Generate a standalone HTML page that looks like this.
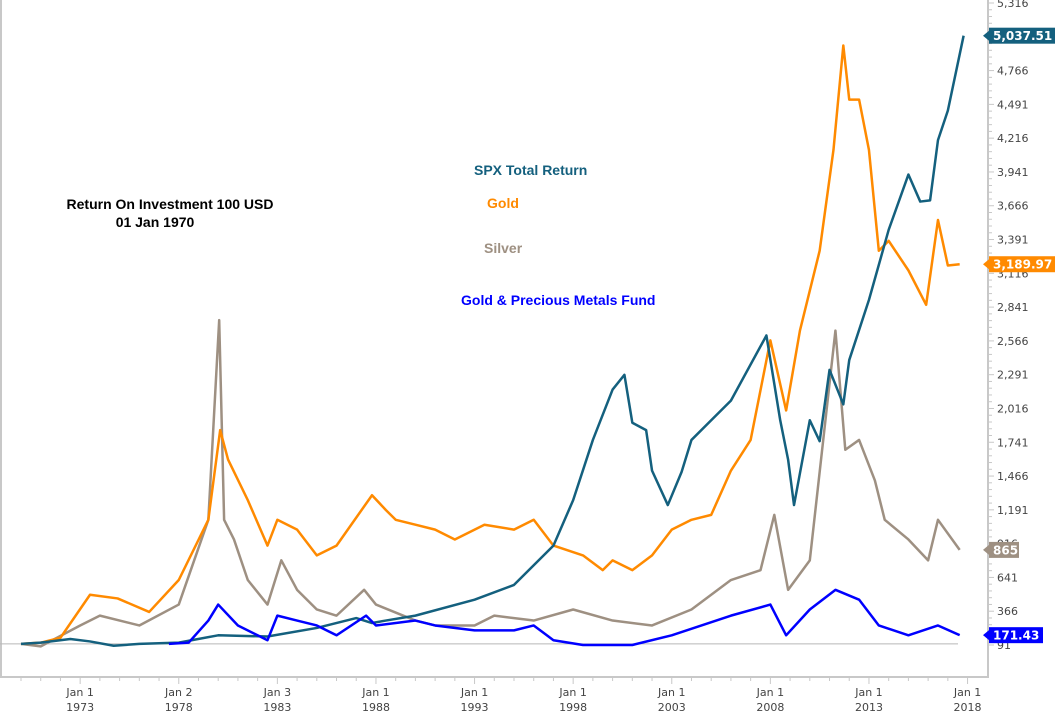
<!DOCTYPE html>
<html><head><meta charset="utf-8"><style>
body{margin:0;background:#fff;}
svg{display:block;font-family:"DejaVu Sans","Liberation Sans",sans-serif;}
.lbl{font-family:"Liberation Sans",sans-serif;font-weight:bold;font-size:14px;}
</style></head><body>
<svg id="chart" width="1055" height="715">
<g id="axes"></g><g id="series"></g>
<text class="lbl" x="170" y="209" text-anchor="middle" fill="#000">Return On Investment 100 USD</text>
<text class="lbl" x="155" y="227" text-anchor="middle" fill="#000">01 Jan 1970</text>
<text class="lbl" x="474" y="175" fill="#14607e">SPX Total Return</text>
<text class="lbl" x="487" y="208" fill="#ff8a00">Gold</text>
<text class="lbl" x="484" y="253" fill="#9e9082">Silver</text>
<text class="lbl" x="461" y="305" fill="#0000ff">Gold &amp; Precious Metals Fund</text>
</svg>
<script>
const yTicks=[91,366,641,916,1191,1466,1741,2016,2291,2566,2841,3116,3391,3666,3941,4216,4491,4766,5041,5316];
const xTickYears=[1973,1978,1983,1988,1993,1998,2003,2008,2013,2018];
const xTickDays=["Jan 1","Jan 2","Jan 3","Jan 1","Jan 1","Jan 1","Jan 1","Jan 1","Jan 1","Jan 1"];
const spxT=[1970,1971,1972.5,1973.5,1974.7,1976,1978,1980,1982.5,1985,1987,1987.8,1988.5,1990,1993,1995,1997,1998,1999,2000,2000.6,2001,2001.7,2002,2002.8,2003.5,2004,2005,2006,2007.8,2008.5,2008.9,2009.2,2010,2010.5,2011,2011.7,2012,2013,2014,2015,2015.6,2016.1,2016.5,2017,2017.8];
const spxV=[100,110,140,120,85,100,110,170,160,230,310,270,290,330,460,580,900,1270,1760,2170,2290,1900,1840,1510,1230,1500,1760,1920,2080,2610,1920,1600,1230,1920,1750,2330,2050,2410,2900,3470,3920,3700,3710,4200,4440,5050];
const goldT=[1970,1971,1972,1973.5,1974.9,1976.5,1978,1979.5,1980.1,1980.5,1981.5,1982.5,1983,1984,1985,1986,1987.8,1988.5,1989,1990,1991,1992,1993.5,1995,1996,1997,1998.5,1999.5,2000,2001,2002,2003,2004,2005,2006,2007,2008,2008.8,2009.5,2010.5,2011.2,2011.7,2012,2012.5,2013,2013.5,2014,2015,2015.9,2016.5,2017,2017.6];
const goldV=[100,110,150,500,470,360,620,1110,1840,1600,1270,900,1110,1030,820,900,1310,1190,1110,1070,1030,950,1070,1030,1110,900,820,700,780,700,820,1030,1110,1150,1510,1760,2570,2000,2650,3300,4120,4970,4530,4530,4120,3300,3380,3140,2860,3550,3180,3190];
const silverT=[1970,1971,1973,1974,1976,1978,1979.5,1980.05,1980.3,1980.8,1981.5,1982.5,1983.2,1984,1985,1986,1987.4,1988,1990,1991,1993,1994,1996,1998,2000,2002,2004,2006,2007.5,2008.2,2008.9,2010,2011.3,2011.8,2012.5,2013.3,2013.8,2015,2016,2016.5,2017.6];
const silverV=[100,80,250,330,250,420,1110,2735,1110,950,620,420,780,540,380,330,540,420,290,250,250,330,290,380,290,250,380,620,700,1150,540,780,2650,1680,1760,1430,1110,950,780,1110,865];
const fundT=[1977.5,1978.5,1979.5,1980,1981,1982.5,1983,1984,1985,1986,1987.5,1988,1990,1991,1993,1995,1996,1997,1998.5,2000,2001,2003,2006,2008,2008.8,2010,2011.3,2012.5,2013.5,2015,2016.5,2017.6];
const fundV=[100,110,290,420,250,130,330,290,250,170,330,250,290,250,210,210,250,130,91,91,91,170,330,420,170,380,540,460,250,170,250,171];
const NS='http://www.w3.org/2000/svg';
function xS(yr){return 21+(yr-1970)*19.72;}
function yS(v){return 645-(v-91)*0.12287;}
function mk(tag,attrs,parent){const e=document.createElementNS(NS,tag);for(const k in attrs)e.setAttribute(k,attrs[k]);parent.appendChild(e);return e;}
const ax=document.getElementById('axes'), se=document.getElementById('series');
let f=mk('line',{x1:1,y1:0,x2:1,y2:677,stroke:'#c8c8c8','stroke-width':2},ax);

f=mk('line',{x1:0,y1:677,x2:989,y2:677,stroke:'#c8c8c8','stroke-width':2},ax);

f=mk('line',{x1:988,y1:0,x2:988,y2:677,stroke:'#c8c8c8','stroke-width':2},ax);

f=mk('line',{x1:0,y1:yS(100),x2:958,y2:yS(100),stroke:'#b8b8b8','stroke-width':1},ax);

for(let i=0;i<yTicks.length;i++){
  for(let m=0;m<5;m++){const y=yS(yTicks[i]+m*55);if(y<0)continue;
    mk('line',{x1:988,y1:y,x2:m?992:994,y2:y,stroke:'#c8c8c8','stroke-width':1},ax);}
  const t=mk('text',{x:997,y:yS(yTicks[i])+4,'font-size':11,fill:'#444'},ax);
  t.textContent=yTicks[i].toLocaleString('en-US');
  
}
for(let yr=1970;yr<=2018;yr++){const x=xS(yr);mk('line',{x1:x,y1:677,x2:x,y2:xTickYears.includes(yr)?684:681,stroke:'#c8c8c8','stroke-width':1},ax);}
for(let i=0;i<xTickYears.length;i++){const x=xS(xTickYears[i]);
  let t=mk('text',{x:x,y:696,'font-size':11,fill:'#444','text-anchor':'middle'},ax);t.textContent=xTickDays[i];
  
  t=mk('text',{x:x,y:711,'font-size':11,fill:'#444','text-anchor':'middle'},ax);t.textContent=xTickYears[i];
  }
function line(T,V,color,name){
  const p=mk('polyline',{points:T.map((t,i)=>xS(t)+','+yS(V[i])).join(' '),fill:'none',stroke:color,'stroke-width':2.5,'stroke-linejoin':'round'},se);
  
}
line(silverT,silverV,'#9e9082','silver-line');
line(goldT,goldV,'#ff8a00','gold-line');
line(spxT,spxV,'#14607e','spx-line');
line(fundT,fundV,'#0000ff','fund-line');
function tag(v,txt,color,name){const y=yS(v);
  mk('polygon',{points:`983,${y} 989,${y-5} 989,${y+5}`,fill:color},ax);
  const w=txt.length*8+6;
  const r=mk('rect',{x:989,y:y-8,width:w,height:16,fill:color},ax);
  
  const t=mk('text',{x:993,y:y+4.5,'font-size':12,'font-weight':'bold',fill:'#fff'},ax);t.textContent=txt;
  }
tag(spxV[spxV.length-1],'5,037.51','#14607e','spx-last-value');
tag(goldV[goldV.length-1],'3,189.97','#ff8a00','gold-last-value');
tag(silverV[silverV.length-1],'865','#9e9082','silver-last-value');
tag(fundV[fundV.length-1],'171.43','#0000ff','fund-last-value');
</script>
</body></html>
